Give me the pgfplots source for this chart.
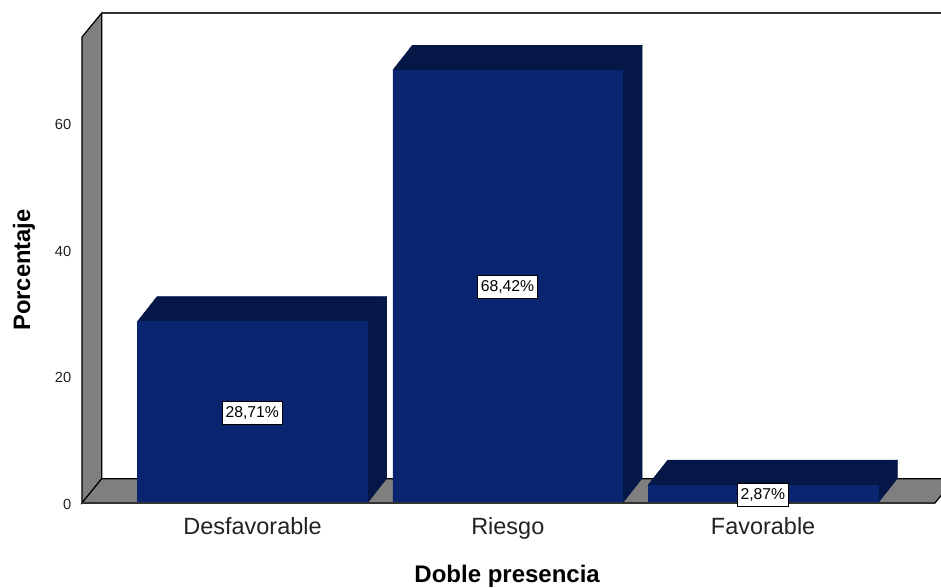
\documentclass[border=0pt]{standalone}
\usepackage{fontspec}
\setmainfont{Liberation Sans}
\usepackage{pgfplots}
\usepackage{pgfplotstable}
\pgfplotsset{compat=1.18}
\definecolor{barfront}{HTML}{0A2570}
\definecolor{bardark}{HTML}{051747}
\definecolor{wallgray}{HTML}{7F7F7F}
\definecolor{ticktext}{HTML}{222222}
\pgfplotstableread{
pos value label
0 28.71 28,71
1 68.42 68,42
2 2.87 2,87
}\datatable
\begin{document}
\begin{tikzpicture}
\path[use as bounding box,clip] (0pt,0pt) rectangle (705.75pt,440.25pt);
\begin{axis}[
  at={(61.5pt,63pt)},anchor=south west,
  scale only axis,
  width=639.75pt,height=349.5pt,
  xmin=-0.6678,xmax=2.6733,
  ymin=0,ymax=73.62,
  clip=false,
  axis line style={draw=none},
  major tick length=0pt,
  /pgf/number format/assume math mode=true,
  xtick={0,1,2},
  xticklabels={Desfavorable,Riesgo,Favorable},
  ytick={0,20,40,60},
  xticklabel style={font=\fontsize{17.6pt}{21pt}\selectfont,text=ticktext,yshift=-7.5pt},
  yticklabel style={font=\fontsize{11pt}{13pt}\selectfont,text=ticktext,xshift=-4.5pt,yshift=-1pt},
  xlabel={\textbf{Doble presencia}},
  ylabel={\textbf{Porcentaje}},
  xlabel style={font=\fontsize{18pt}{21pt}\selectfont,at={(axis description cs:0.4985,0)},anchor=base,yshift=-59.5pt},
  ylabel style={font=\fontsize{17.8pt}{21pt}\selectfont,at={(axis description cs:0,0.5)},anchor=center,rotate=0,yshift=43.5pt},
]
% side wall and floor of the box
\addplot[fill=wallgray,draw=black,line width=0.9pt] coordinates {(-0.6678,0)(-0.6678,73.62)(-0.5906,77.41)(-0.5906,3.84)} --cycle;
\addplot[fill=wallgray,draw=black,line width=0.9pt] coordinates {(-0.6678,0)(-0.5906,3.84)(2.7497,3.84)(2.6733,0)} --cycle;
% back edge along the top
\addplot[draw=black!80,line width=0.9pt] coordinates {(-0.5906,77.41)(2.7497,77.41)};
% depth faces of the bars
\addplot[fill=bardark,draw=bardark,line width=0.3pt] coordinates {(-0.45,28.71)(-0.374,32.61)(0.526,32.61)(0.45,28.71)} --cycle;
\addplot[fill=bardark,draw=bardark,line width=0.3pt] coordinates {(0.45,0)(0.526,3.9)(0.526,32.61)(0.45,28.71)} --cycle;
\addplot[fill=bardark,draw=bardark,line width=0.3pt] coordinates {(0.55,68.42)(0.626,72.32)(1.526,72.32)(1.45,68.42)} --cycle;
\addplot[fill=bardark,draw=bardark,line width=0.3pt] coordinates {(1.45,0)(1.526,3.9)(1.526,72.32)(1.45,68.42)} --cycle;
\addplot[fill=bardark,draw=bardark,line width=0.3pt] coordinates {(1.55,2.87)(1.626,6.77)(2.526,6.77)(2.45,2.87)} --cycle;
\addplot[fill=bardark,draw=bardark,line width=0.3pt] coordinates {(2.45,0)(2.526,3.9)(2.526,6.77)(2.45,2.87)} --cycle;
% front faces of the bars
\addplot[ybar,bar width=0.9,fill=barfront,draw=barfront,line width=0.3pt] table[x=pos,y=value] {\datatable};
% front baseline
\addplot[draw=black!80,line width=0.9pt] coordinates {(-0.6678,0)(2.6733,0)};
% percentage labels at mid height of each bar
\addplot[draw=none,mark=none,point meta=explicit symbolic,
  nodes near coords={\pgfplotspointmeta\%},
  every node near coord/.style={anchor=center,fill=white,draw=black,line width=0.8pt,
    font=\fontsize{11.8pt}{14pt}\selectfont,inner xsep=2.4pt,inner ysep=2.5pt,text=black,
    minimum height=17.5pt,yshift=-0.6pt,xshift=-0.2pt}]
  table[x=pos,y expr=\thisrow{value}/2,meta=label] {\datatable};
\end{axis}
\end{tikzpicture}
\end{document}
